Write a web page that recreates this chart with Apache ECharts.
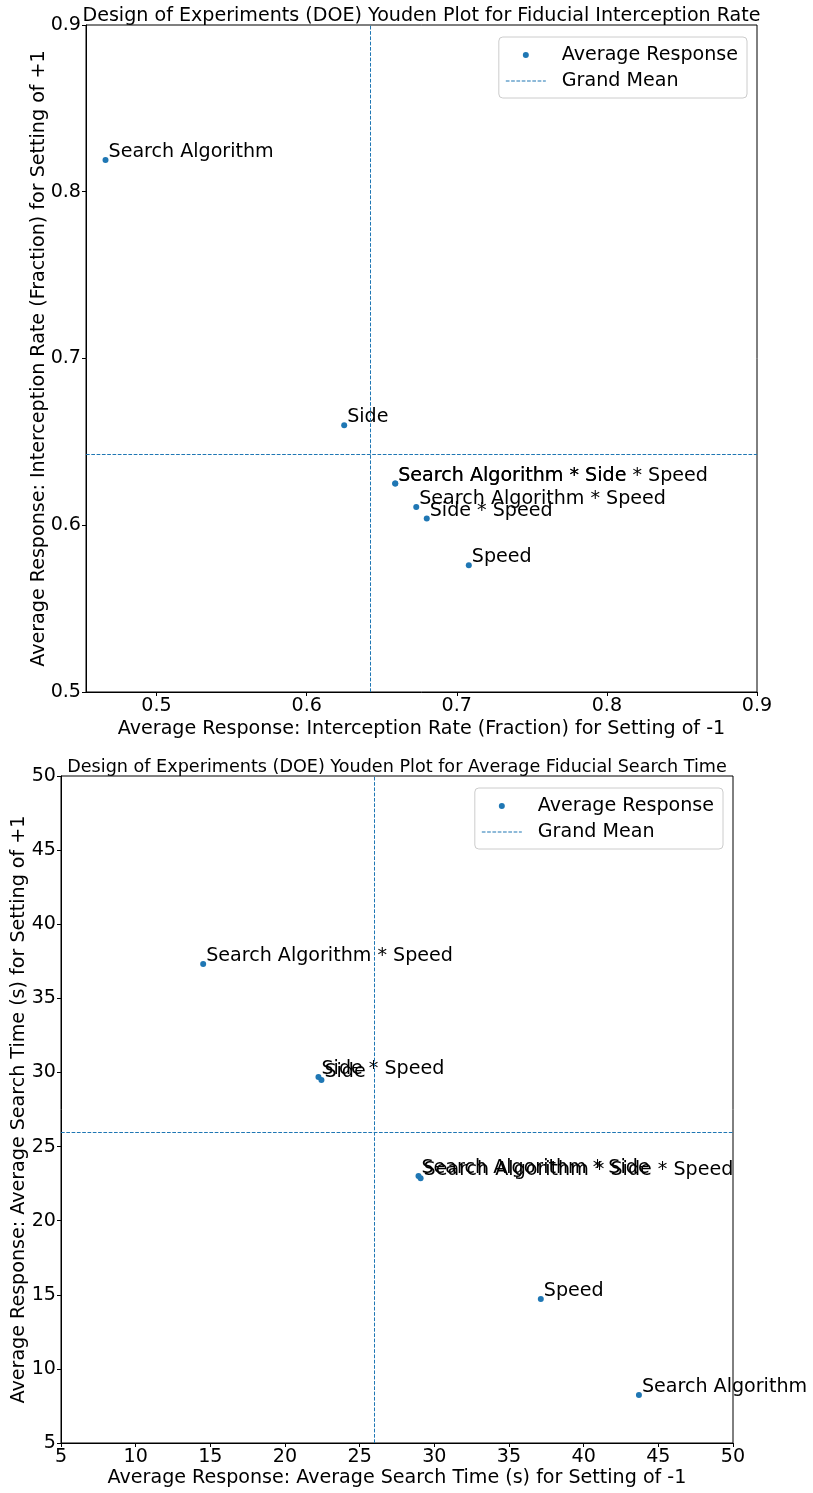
<!DOCTYPE html>
<html>
<head>
<meta charset="utf-8">
<title>DOE Youden Plots</title>
<script src="https://cdn.jsdelivr.net/npm/echarts@6/dist/echarts.min.js"></script>
<style>
  html, body { margin: 0; padding: 0; background: #fff; }
  #chart { width: 813px; height: 1493px; }
</style>
</head>
<body>
<div id="chart"></div>
<script>
// Factors of the 2^3 design (main effects and interactions)
const factors = [
  'Search Algorithm',
  'Side',
  'Speed',
  'Search Algorithm * Side',
  'Search Algorithm * Speed',
  'Side * Speed',
  'Search Algorithm * Side * Speed'
];

// Interception rate: average response at setting -1 and +1
const rateLow  = [0.466, 0.625, 0.708, 0.659, 0.673, 0.680, 0.659];
const rateHigh = [0.819, 0.660, 0.576, 0.625, 0.611, 0.604, 0.625];
const rateGrandMean = 0.6423;
const rateXRange = [0.453, 0.9];
const rateYRange = [0.5, 0.9];
const rateTicks = [0.5, 0.6, 0.7, 0.8, 0.9];

// Search time (s): average response at setting -1 and +1
const timeLow  = [43.70, 22.44, 37.13, 28.94, 14.52, 22.24, 29.08];
const timeHigh = [8.23, 29.49, 14.71, 23.01, 37.31, 29.69, 22.87];
const timeGrandMean = 25.96;
const timeRange = [5, 50];
const timeTicks = [5, 10, 15, 20, 25, 30, 35, 40, 45, 50];

const titles = [
  'Design of Experiments (DOE) Youden Plot for Fiducial Interception Rate',
  'Design of Experiments (DOE) Youden Plot for Average Fiducial Search Time'
];
const xNames = [
  'Average Response: Interception Rate (Fraction) for Setting of -1',
  'Average Response: Average Search Time (s) for Setting of -1'
];
const yNames = [
  'Average Response: Interception Rate (Fraction) for Setting of +1',
  'Average Response: Average Search Time (s) for Setting of +1'
];

const BLUE = '#1f77b4';
const FONT = 'DejaVu Sans';
const FS = 19.1;

// dashed-line legend glyph (zero-area strokes at both ends fix the 40x6 box)
function dashIcon() {
  let d = 'path://M0,0L0,6L0,0Z M40,0L40,6L40,0Z';
  for (let x = 0; x < 40; x += 5.3) {
    const w = Math.min(3.7, 40 - x);
    d += ' M' + x.toFixed(2) + ',2.5h' + w.toFixed(2) + 'v1h-' + w.toFixed(2) + 'Z';
  }
  return d;
}

const grids = [
  { left: 86, top: 25, width: 671, height: 667 },
  { left: 61, top: 776, width: 672, height: 667 }
];

function makeAxis(gridIndex, range, ticks, name, nameGap, isY) {
  return {
    type: 'value',
    gridIndex: gridIndex,
    min: range[0],
    max: range[1],
    name: name,
    nameLocation: 'middle',
    nameGap: nameGap,
    nameMoveOverlap: false,
    nameTextStyle: { fontFamily: FONT, fontSize: FS, color: '#000' },
    axisLine: { show: true, onZero: false, lineStyle: { color: '#000', width: 1 } },
    axisTick: { show: true, inside: false, length: 4, customValues: ticks, lineStyle: { color: '#000', width: 1 } },
    axisLabel: {
      show: true, customValues: ticks, margin: 5,
      fontFamily: FONT, fontSize: FS, color: '#000'
    },
    splitLine: { show: false }
  };
}

function pairs(xs, ys) {
  return factors.map((f, i) => ({ name: f, value: [xs[i], ys[i]] }));
}

function pointSeries(idx, xs, ys) {
  return {
    type: 'scatter',
    name: 'Average Response',
    xAxisIndex: idx, yAxisIndex: idx,
    symbol: 'circle', symbolSize: 6,
    itemStyle: { color: BLUE, opacity: 1 },
    data: pairs(xs, ys),
    label: {
      show: true,
      position: 'right',
      distance: 0,
      offset: [0, -8],
      formatter: p => p.name,
      fontFamily: FONT, fontSize: FS, color: '#000'
    },
    emphasis: { disabled: true },
    z: 3
  };
}

function meanSeries(idx, gm) {
  return {
    type: 'scatter',
    name: 'Grand Mean',
    xAxisIndex: idx, yAxisIndex: idx,
    data: [],
    itemStyle: { color: BLUE, opacity: 1 },
    markLine: {
      silent: true,
      precision: 6,
      symbol: ['none', 'none'],
      label: { show: false },
      lineStyle: { color: BLUE, width: 1, type: [3.7, 1.6], opacity: 1 },
      emphasis: { disabled: true },
      data: [{ xAxis: gm }, { yAxis: gm }]
    },
    z: 2
  };
}

function makeLegend(gi) {
  const g = grids[gi];
  return {
    orient: 'vertical',
    right: 813 - (g.left + g.width - 10),
    top: g.top + 12,
    padding: [5, 9, 4, 7],
    itemWidth: 40,
    itemHeight: 6,
    itemGap: 0,
    backgroundColor: 'rgba(255,255,255,0.8)',
    borderColor: '#cccccc',
    borderWidth: 1,
    borderRadius: 4,
    selectedMode: false,
    textStyle: { fontFamily: FONT, fontSize: FS, color: '#000', lineHeight: 26, padding: [0, 0, 0, 11] },
    data: [
      { name: 'Average Response', icon: 'circle', itemStyle: { color: BLUE, borderWidth: 0, opacity: 1 } },
      { name: 'Grand Mean', icon: dashIcon(), itemStyle: { color: BLUE, borderWidth: 0, opacity: 1 } }
    ]
  };
}

function makeTitle(gi, text, top, size) {
  const g = grids[gi];
  return {
    text: text,
    left: g.left + g.width / 2,
    top: top,
    textAlign: 'center',
    padding: 0,
    textStyle: { fontFamily: FONT, fontSize: size, fontWeight: 'normal', color: '#000', lineHeight: 20 }
  };
}

const chart = echarts.init(document.getElementById('chart'), null, { renderer: 'canvas', width: 813, height: 1493 });

chart.setOption({
  animation: false,
  backgroundColor: '#fff',
  title: [makeTitle(0, titles[0], 6, 19.1), makeTitle(1, titles[1], 757, 17.6)],
  legend: [makeLegend(0), makeLegend(1)],
  grid: grids.map(g => Object.assign({
    show: true, borderColor: '#000', borderWidth: 1, backgroundColor: 'transparent',
    containLabel: false, outerBoundsMode: 'none'
  }, g)),
  xAxis: [
    makeAxis(0, rateXRange, rateTicks, xNames[0], 28, false),
    makeAxis(1, timeRange, timeTicks, xNames[1], 26, false)
  ],
  yAxis: [
    makeAxis(0, rateYRange, rateTicks, yNames[0], 37, true),
    makeAxis(1, timeRange, timeTicks, yNames[1], 32, true)
  ],
  series: [
    meanSeries(0, rateGrandMean),
    pointSeries(0, rateLow, rateHigh),
    meanSeries(1, timeGrandMean),
    pointSeries(1, timeLow, timeHigh)
  ]
});
</script>
</body>
</html>
